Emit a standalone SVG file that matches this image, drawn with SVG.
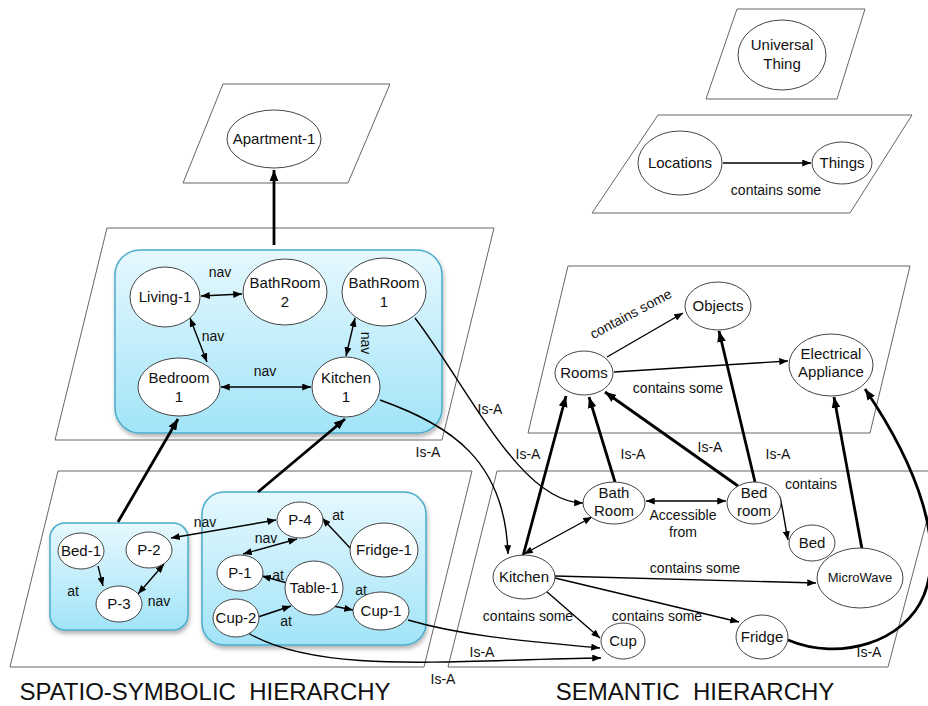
<svg xmlns="http://www.w3.org/2000/svg" width="928" height="706" viewBox="0 0 928 706">
<defs>
<style>
text{font-family:"Liberation Sans",Arial,sans-serif;fill:#111;}
.n{font-size:15px;text-anchor:middle;}
.s{font-size:14px;text-anchor:middle;}
.e{fill:#fff;stroke:#444;stroke-width:1;}
.pg{fill:#fff;stroke:#666;stroke-width:1;}
.box{fill:url(#bg);stroke:#4aaccc;stroke-width:1.5;filter:url(#sh);}
.l{fill:none;stroke:#000;stroke-width:1.4;}
.t{fill:none;stroke:#000;stroke-width:2.8;}
.title{font-size:24px;text-anchor:middle;fill:#111;}
</style>
<linearGradient id="bg" x1="0" y1="0" x2="0" y2="1">
<stop offset="0" stop-color="#e6f8fe"/>
<stop offset="1" stop-color="#a2e4f8"/>
</linearGradient>
<filter id="sh" x="-10%" y="-10%" width="120%" height="130%">
<feDropShadow dx="1" dy="3" stdDeviation="2" flood-color="#000" flood-opacity="0.3"/>
</filter>
<marker id="a" viewBox="0 0 10 8" refX="10" refY="4" markerWidth="9" markerHeight="7" markerUnits="userSpaceOnUse" orient="auto-start-reverse">
<path d="M0,0 L10,4 L0,8 z" fill="#000"/>
</marker>
<marker id="ab" viewBox="0 0 10 8" refX="10" refY="4" markerWidth="11" markerHeight="9" markerUnits="userSpaceOnUse" orient="auto-start-reverse">
<path d="M0,0 L10,4 L0,8 z" fill="#000"/>
</marker>
</defs>
<rect width="928" height="706" fill="#fff"/>

<g id="planes">
<polygon class="pg" points="737,9 865,9 837,99 706,99"/>
<polygon class="pg" points="658,115 912,115 850,213 592,213"/>
<polygon class="pg" points="223,84 390,84 348,183 183,183"/>
<polygon class="pg" points="107,228 494,228 442,440 55,440"/>
<polygon class="pg" points="58,471 472,471 424,667 10,667"/>
<polygon class="pg" points="568,266 910,266 870,433 528,433"/>
<polygon class="pg" points="497,471 940,471 888,667 448,667"/>
</g>

<g id="boxes">
<rect class="box" x="115" y="250" width="327" height="183" rx="25"/>
<rect class="box" x="50" y="523" width="138" height="107" rx="15"/>
<rect class="box" x="202" y="492" width="224" height="153" rx="22"/>
</g>

<g id="connectors">
<line class="t" x1="274" y1="245" x2="274" y2="170" marker-end="url(#ab)"/>
<line class="l" x1="201" y1="296" x2="242" y2="294" marker-start="url(#a)" marker-end="url(#a)"/>
<line class="l" x1="190" y1="318" x2="207" y2="362" marker-start="url(#a)" marker-end="url(#a)"/>
<line class="l" x1="221" y1="387" x2="311" y2="387" marker-start="url(#a)" marker-end="url(#a)"/>
<line class="l" x1="355" y1="318" x2="346" y2="356" marker-start="url(#a)" marker-end="url(#a)"/>
<line class="t" x1="118" y1="522" x2="178" y2="419" marker-end="url(#ab)"/>
<line class="t" x1="258" y1="492" x2="345" y2="419" marker-end="url(#ab)"/>
<line class="l" x1="98" y1="566" x2="103" y2="586" marker-end="url(#a)"/>
<line class="l" x1="138" y1="594" x2="164" y2="564" marker-start="url(#a)" marker-end="url(#a)"/>
<line class="l" x1="171" y1="538" x2="276" y2="520" marker-start="url(#a)" marker-end="url(#a)"/>
<line class="l" x1="243" y1="554" x2="297" y2="539" marker-start="url(#a)" marker-end="url(#a)"/>
<line class="l" x1="351" y1="549" x2="322" y2="518" marker-end="url(#a)"/>
<line class="l" x1="287" y1="583" x2="262" y2="576" marker-end="url(#a)"/>
<line class="l" x1="333" y1="606" x2="353" y2="610" marker-end="url(#a)"/>
<line class="l" x1="258" y1="617" x2="291" y2="606" marker-end="url(#a)"/>
<path class="l" d="M408,620 C470,638 540,642 600,648" marker-end="url(#a)"/>
<path class="l" d="M248,633 C320,675 450,660 601,658" marker-end="url(#a)"/>
<path class="l" d="M415,318 C470,390 520,502 583,503" marker-end="url(#a)"/>
<path class="l" d="M380,400 C450,425 505,460 508,554" marker-end="url(#a)"/>
<line class="l" x1="723" y1="163" x2="811" y2="163" marker-end="url(#a)"/>
<line class="l" x1="607" y1="357" x2="683" y2="313" marker-end="url(#a)"/>
<line class="l" x1="614" y1="372" x2="788" y2="361" marker-end="url(#a)"/>
<line class="t" x1="523" y1="556" x2="566" y2="396" marker-end="url(#ab)"/>
<line class="t" x1="615" y1="482" x2="589" y2="397" marker-end="url(#ab)"/>
<line class="t" x1="738" y1="486" x2="605" y2="392" marker-end="url(#ab)"/>
<line class="t" x1="755" y1="482" x2="719" y2="331" marker-end="url(#ab)"/>
<line class="t" x1="862" y1="549" x2="834" y2="397" marker-end="url(#ab)"/>
<path class="t" d="M788,640 C840,662 905,642 924,595 C944,545 920,470 865,389" marker-end="url(#ab)"/>
<line class="l" x1="646" y1="501" x2="726" y2="501" marker-start="url(#a)" marker-end="url(#a)"/>
<path class="l" d="M780,497 C783,510 785,525 788,540" marker-end="url(#a)"/>
<line class="l" x1="524" y1="554" x2="592" y2="517" marker-start="url(#a)" marker-end="url(#a)"/>
<line class="l" x1="555" y1="576" x2="816" y2="583" marker-end="url(#a)"/>
<line class="l" x1="555" y1="578" x2="739" y2="622" marker-end="url(#a)"/>
<line class="l" x1="546" y1="591" x2="600" y2="638" marker-end="url(#a)"/>
</g>

<g id="edge-labels">
<text class="s" x="220" y="277">nav</text>
<text class="s" x="213" y="341">nav</text>
<text class="s" x="265" y="376">nav</text>
<text class="s" transform="translate(361,343) rotate(90)">nav</text>
<text class="s" x="73" y="596">at</text>
<text class="s" x="159" y="606">nav</text>
<text class="s" x="205" y="527">nav</text>
<text class="s" x="266" y="543">nav</text>
<text class="s" x="338" y="520">at</text>
<text class="s" x="278" y="580">at</text>
<text class="s" x="361" y="595">at</text>
<text class="s" x="286" y="626">at</text>
<text class="s" x="482" y="657">Is-A</text>
<text class="s" x="443" y="684">Is-A</text>
<text class="s" x="490" y="414">Is-A</text>
<text class="s" x="428" y="457">Is-A</text>
<text class="s" x="528" y="459">Is-A</text>
<text class="s" x="633" y="459">Is-A</text>
<text class="s" x="710" y="452">Is-A</text>
<text class="s" x="778" y="459">Is-A</text>
<text class="s" x="869" y="657">Is-A</text>
<text class="s" x="776" y="195">contains some</text>
<text class="s" transform="translate(633,318) rotate(-28)">contains some</text>
<text class="s" x="678" y="393">contains some</text>
<text class="s" x="683" y="520">Accessible</text>
<text class="s" x="683" y="537">from</text>
<text class="s" x="811" y="489">contains</text>
<text class="s" x="695" y="573">contains some</text>
<text class="s" x="657" y="621">contains some</text>
<text class="s" x="528" y="621">contains some</text>
</g>

<g id="n-universal"><ellipse class="e" cx="782" cy="55" rx="44" ry="35"/><text class="n" x="782" y="50">Universal</text><text class="n" x="782" y="69">Thing</text></g>
<g id="n-locations"><ellipse class="e" cx="680" cy="163" rx="42" ry="32"/><text class="n" x="680" y="168">Locations</text></g>
<g id="n-things"><ellipse class="e" cx="842" cy="163" rx="30" ry="21"/><text class="n" x="842" y="168">Things</text></g>
<g id="n-apartment"><ellipse class="e" cx="274" cy="139" rx="47" ry="29"/><text class="n" x="274" y="144">Apartment-1</text></g>
<g id="n-living1"><ellipse class="e" cx="165" cy="297" rx="35" ry="30"/><text class="n" x="165" y="302">Living-1</text></g>
<g id="n-bathroom2"><ellipse class="e" cx="285" cy="292" rx="42" ry="33"/><text class="n" x="285" y="288">BathRoom</text><text class="n" x="285" y="307">2</text></g>
<g id="n-bathroom1"><ellipse class="e" cx="384" cy="292" rx="42" ry="34"/><text class="n" x="384" y="288">BathRoom</text><text class="n" x="384" y="307">1</text></g>
<g id="n-bedroom1"><ellipse class="e" cx="179" cy="387" rx="41" ry="29"/><text class="n" x="179" y="383">Bedroom</text><text class="n" x="179" y="402">1</text></g>
<g id="n-kitchen1"><ellipse class="e" cx="346" cy="387" rx="34" ry="30"/><text class="n" x="346" y="383">Kitchen</text><text class="n" x="346" y="402">1</text></g>
<g id="n-bed1"><ellipse class="e" cx="81" cy="551" rx="23" ry="18"/><text class="n" x="81" y="556">Bed-1</text></g>
<g id="n-p2"><ellipse class="e" cx="149" cy="550" rx="23" ry="18"/><text class="n" x="149" y="555">P-2</text></g>
<g id="n-p3"><ellipse class="e" cx="119" cy="604" rx="23" ry="18"/><text class="n" x="119" y="609">P-3</text></g>
<g id="n-p4"><ellipse class="e" cx="300" cy="520" rx="23" ry="18"/><text class="n" x="300" y="525">P-4</text></g>
<g id="n-fridge1"><ellipse class="e" cx="384" cy="550" rx="34" ry="27"/><text class="n" x="384" y="555">Fridge-1</text></g>
<g id="n-p1"><ellipse class="e" cx="240" cy="573" rx="23" ry="18"/><text class="n" x="240" y="578">P-1</text></g>
<g id="n-table1"><ellipse class="e" cx="314" cy="588" rx="29" ry="27"/><text class="n" x="314" y="593">Table-1</text></g>
<g id="n-cup2"><ellipse class="e" cx="236" cy="618" rx="23" ry="19"/><text class="n" x="236" y="623">Cup-2</text></g>
<g id="n-cup1"><ellipse class="e" cx="381" cy="611" rx="28" ry="19"/><text class="n" x="381" y="616">Cup-1</text></g>
<g id="n-objects"><ellipse class="e" cx="718" cy="306" rx="33" ry="24"/><text class="n" x="718" y="311">Objects</text></g>
<g id="n-rooms"><ellipse class="e" cx="584" cy="373" rx="29" ry="22"/><text class="n" x="584" y="378">Rooms</text></g>
<g id="n-electrical"><ellipse class="e" cx="831" cy="365" rx="42" ry="31"/><text class="n" x="831" y="359">Electrical</text><text class="n" x="831" y="377">Appliance</text></g>
<g id="n-bathroom"><ellipse class="e" cx="614" cy="503" rx="31" ry="21"/><text class="n" x="614" y="498">Bath</text><text class="n" x="614" y="516">Room</text></g>
<g id="n-bedroom"><ellipse class="e" cx="754" cy="503" rx="27" ry="21"/><text class="n" x="754" y="498">Bed</text><text class="n" x="754" y="516">room</text></g>
<g id="n-bed"><ellipse class="e" cx="812" cy="543" rx="23" ry="18"/><text class="n" x="812" y="548">Bed</text></g>
<g id="n-kitchen"><ellipse class="e" cx="524" cy="577" rx="31" ry="22"/><text class="n" x="524" y="582">Kitchen</text></g>
<g id="n-microwave"><ellipse class="e" cx="860" cy="578" rx="43" ry="30"/><text class="n" x="860" y="582" style="font-size:13px">MicroWave</text></g>
<g id="n-cup"><ellipse class="e" cx="623" cy="641" rx="22" ry="18"/><text class="n" x="623" y="646">Cup</text></g>
<g id="n-fridge"><ellipse class="e" cx="762" cy="637" rx="26" ry="22"/><text class="n" x="762" y="642">Fridge</text></g>

<g id="titles">
<text class="title" x="205" y="700">SPATIO-SYMBOLIC&#160; HIERARCHY</text>
<text class="title" x="695" y="700">SEMANTIC&#160; HIERARCHY</text>
</g>
</svg>
